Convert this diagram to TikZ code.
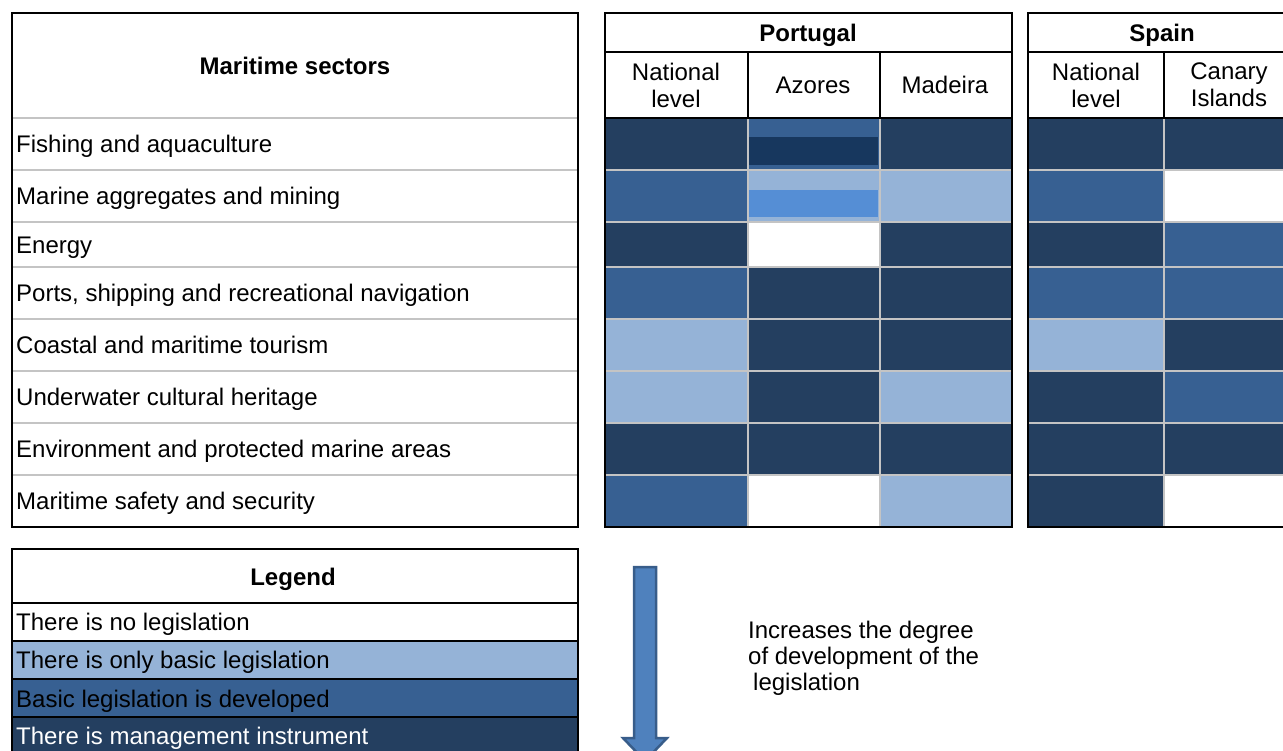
\documentclass[tikz,border=0pt]{standalone}
\usepackage{fontspec}
\setmainfont{Liberation Sans}
\definecolor{cD}{HTML}{243F60}
\definecolor{cM}{HTML}{376092}
\definecolor{cL}{HTML}{95B3D7}
\definecolor{cW}{HTML}{FFFFFF}
\definecolor{cDD}{HTML}{17375E}
\definecolor{cLL}{HTML}{558ED5}
\definecolor{gridgray}{HTML}{C4C4C4}
\definecolor{arrowfill}{HTML}{4F81BD}
\definecolor{arrowline}{HTML}{385D8A}
\begin{document}
\begin{tikzpicture}[x=1pt,y=-1pt,
  txt/.style={inner sep=0pt, font=\fontsize{24}{27}\selectfont, text=black},
  one/.style={txt, text height=17.2pt, text depth=0pt},
  bold/.style={one, font=\fontsize{24}{27}\selectfont\bfseries},
  multi/.style={txt, align=center},
  blackline/.style={draw=black, line width=2.5pt},
  grayline/.style={draw=gridgray, line width=2pt}]
\useasboundingbox (0,0) rectangle (1283,751);
\clip (0,0) rectangle (1283,751);
\fill[white] (0,0) rectangle (1283,751);

% ---------- data cells ----------
\foreach \ya/\yb/\a/\b/\c/\d/\e in {
  118/170/cD/cM/cD/cD/cD,
  170/222/cM/cL/cL/cM/cW,
  222/267/cD/cW/cD/cD/cM,
  267/319/cM/cD/cD/cM/cM,
  319/371/cL/cD/cD/cL/cD,
  371/423/cL/cD/cL/cD/cM,
  423/475/cD/cD/cD/cD/cD,
  475/527/cM/cW/cL/cD/cW}{
  \fill[\a] (605,\ya) rectangle (748,\yb);
  \fill[\b] (748,\ya) rectangle (880,\yb);
  \fill[\c] (880,\ya) rectangle (1012,\yb);
  \fill[\d] (1028,\ya) rectangle (1164,\yb);
  \fill[\e] (1164,\ya) rectangle (1296,\yb);
}
% inner bands of the Azores cells
\fill[cDD] (749,137) rectangle (878,165);
\fill[cLL] (749,190) rectangle (878,217);

% ---------- grey grid lines ----------
\foreach \y in {118,170,222,267,319,371,423,475}{
  \draw[grayline] (12,\y) -- (578,\y);
}
\foreach \y in {170,222,267,319,371,423,475}{
  \draw[grayline] (605,\y) -- (1012,\y);
  \draw[grayline] (1028,\y) -- (1296,\y);
}
\foreach \x in {748,880}{ \draw[grayline] (\x,118) -- (\x,527); }
\draw[grayline] (1164,118) -- (1164,527);

% ---------- black borders ----------
\draw[blackline] (12,13) rectangle (578,527);
\draw[blackline] (605,13) rectangle (1012,527);
\draw[blackline] (605,52) -- (1012,52);
\draw[blackline] (605,118) -- (1012,118);
\draw[blackline] (748,52) -- (748,118);
\draw[blackline] (880,52) -- (880,118);
\draw[blackline] (1028,13) rectangle (1296,527);
\draw[blackline] (1028,52) -- (1296,52);
\draw[blackline] (1028,118) -- (1296,118);
\draw[blackline] (1164,52) -- (1164,118);

% ---------- header texts ----------
\node[bold] (hsec) at (295,66) {Maritime sectors};
\node[bold] (hpt) at (808,33) {Portugal};
\node[bold] (hes) at (1162,33) {Spain};
\node[multi] (ptnat) at (676,85) {National\\level};
\node[one] (ptaz) at (813,85) {Azores};
\node[one] (ptma) at (945,85) {Madeira};
\node[multi] (esnat) at (1096,85) {National\\level};
\node[multi] (escan) at (1229,85) {Canary\\Islands};

% ---------- sector labels ----------
\node[one, anchor=west] (s1) at (16,144) {Fishing and aquaculture};
\node[one, anchor=west] (s2) at (16,196) {Marine aggregates and mining};
\node[one, anchor=west] (s3) at (16,244.5) {Energy};
\node[one, anchor=west] (s4) at (16,293) {Ports, shipping and recreational navigation};
\node[one, anchor=west] (s5) at (16,345) {Coastal and maritime tourism};
\node[one, anchor=west] (s6) at (16,397) {Underwater cultural heritage};
\node[one, anchor=west] (s7) at (16,449) {Environment and protected marine areas};
\node[one, anchor=west] (s8) at (16,501) {Maritime safety and security};

% ---------- legend ----------
\fill[white] (12,549) rectangle (578,641);
\fill[cL] (12,641) rectangle (578,679);
\fill[cM] (12,679) rectangle (578,717);
\fill[cD] (12,717) rectangle (578,760);
\draw[blackline] (12,549) rectangle (578,760);
\foreach \y in {603,641,679,717}{ \draw[blackline] (12,\y) -- (578,\y); }
\node[bold] (lh) at (293,577) {Legend};
\node[one, anchor=west] (l1) at (16,622) {There is no legislation};
\node[one, anchor=west] (l2) at (16,660) {There is only basic legislation};
\node[one, anchor=west] (l3) at (16,698.5) {Basic legislation is developed};
\node[one, anchor=west, text=white] (l4) at (16,736) {There is management instrument};

% ---------- arrow ----------
\draw[fill=arrowfill, draw=arrowline, line width=2.5pt, line join=miter]
  (634,567) -- (656,567) -- (656,738) -- (667,738) -- (645,761)
  -- (623,738) -- (634,738) -- cycle;
\node[txt, anchor=north west, align=left, font=\fontsize{24}{26}\selectfont]
  (inc) at (748,621) {Increases the degree\\of development of the\\\hspace*{5pt}legislation};
\end{tikzpicture}
\end{document}
